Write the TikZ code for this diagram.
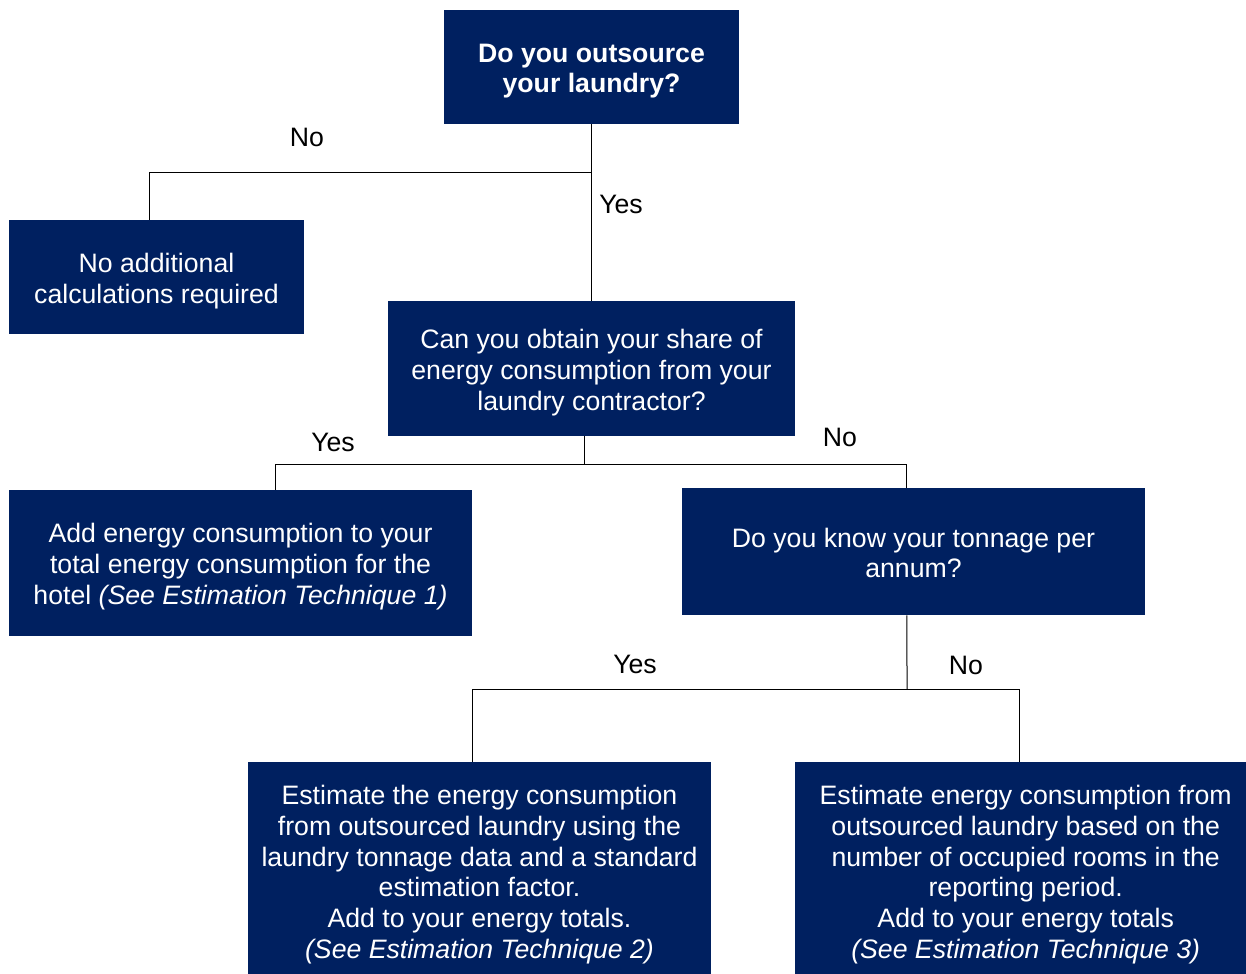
\documentclass[tikz,border=0pt]{standalone}
\usepackage{fontspec}
\setmainfont{Liberation Sans}
\definecolor{navy}{HTML}{002060}
\begin{document}
\begin{tikzpicture}[x=0.75pt,y=-0.75pt,
  box/.style={draw=none,fill=navy,inner sep=0pt},
  txt/.style={text=white,align=center,inner sep=0pt,
    font=\fontsize{20}{23}\selectfont},
  conn/.style={draw=black,line width=0.75pt},
  lbl/.style={font=\fontsize{20}{23}\selectfont,inner sep=0pt}]
\useasboundingbox[fill=white] (0,0) rectangle (1246,974);
\node[box,minimum width=221.25pt,minimum height=85.5pt] (b1) at (591.5,67) {};
\node[txt] (t1) at ([yshift=-3pt]b1.center)
  {\bfseries Do you outsource\\ \bfseries your laundry?};
\node[box,minimum width=221.25pt,minimum height=85.5pt] (b2) at (156.5,277) {};
\node[txt] (t2) at ([yshift=-3pt]b2.center)
  {No additional\\calculations required};
\node[box,minimum width=305.25pt,minimum height=101.25pt] (b3) at (591.5,368.5) {};
\node[txt] (t3) at ([yshift=-3pt]b3.center)
  {Can you obtain your share of\\energy consumption from your\\laundry contractor?};
\node[box,minimum width=347.25pt,minimum height=109.5pt] (b4) at (240.5,563) {};
\node[txt] (t4) at ([yshift=-2.6pt]b4.center)
  {Add energy consumption to your\\total energy consumption for the\\hotel \textit{(See Estimation Technique 1)}};
\node[box,minimum width=347.25pt,minimum height=95.25pt] (b5) at (913.5,551.5) {};
\node[txt] (t5) at ([yshift=-1.1pt]b5.center)
  {Do you know your tonnage per\\annum?};
\node[box,minimum width=347.25pt,minimum height=159pt] (b6) at (479.5,868) {};
\node[txt] (t6) at ([yshift=-4.9pt]b6.center)
  {Estimate the energy consumption\\from outsourced laundry using the\\laundry tonnage data and a standard\\estimation factor.\\Add to your energy totals.\\\textit{(See Estimation Technique 2)}};
\node[box,minimum width=338.25pt,minimum height=159pt] (b7) at (1020.5,868) {};
\node[txt] (t7) at ([xshift=3.9pt,yshift=-4.9pt]b7.center)
  {Estimate energy consumption from\\outsourced laundry based on the\\number of occupied rooms in the\\reporting period.\\Add to your energy totals\\\textit{(See Estimation Technique 3)}};
% connectors
\coordinate (j1) at (591.5,172);
\draw[conn] (b1.south) -- (b3.north);
\draw[conn] (j1) -| ([xshift=-5.25pt]b2.north);
\coordinate (s3) at ([xshift=-5.25pt]b3.south);
\coordinate (j2) at (584.5,464);
\draw[conn] (s3) -- (j2);
\draw[conn] (j2) -| ([xshift=26.6pt]b4.north);
\draw[conn] (j2) -| ([xshift=-4.9pt]b5.north);
\coordinate (s5) at ([xshift=-4.9pt]b5.south);
\coordinate (j3) at (907,689);
\draw[conn] (s5) -- (j3);
\draw[conn] (j3) -| ([xshift=-5.6pt]b6.north);
\draw[conn] (j3) -| ([xshift=-1.1pt]b7.north);
% labels
\node[lbl] (l1) at (307,137) {No};
\node[lbl] (l2) at (621,204) {Yes};
\node[lbl] (l3) at (333,442) {Yes};
\node[lbl] (l4) at (840,437) {No};
\node[lbl] (l5) at (635,664) {Yes};
\node[lbl] (l6) at (966,665) {No};
\end{tikzpicture}
\end{document}
